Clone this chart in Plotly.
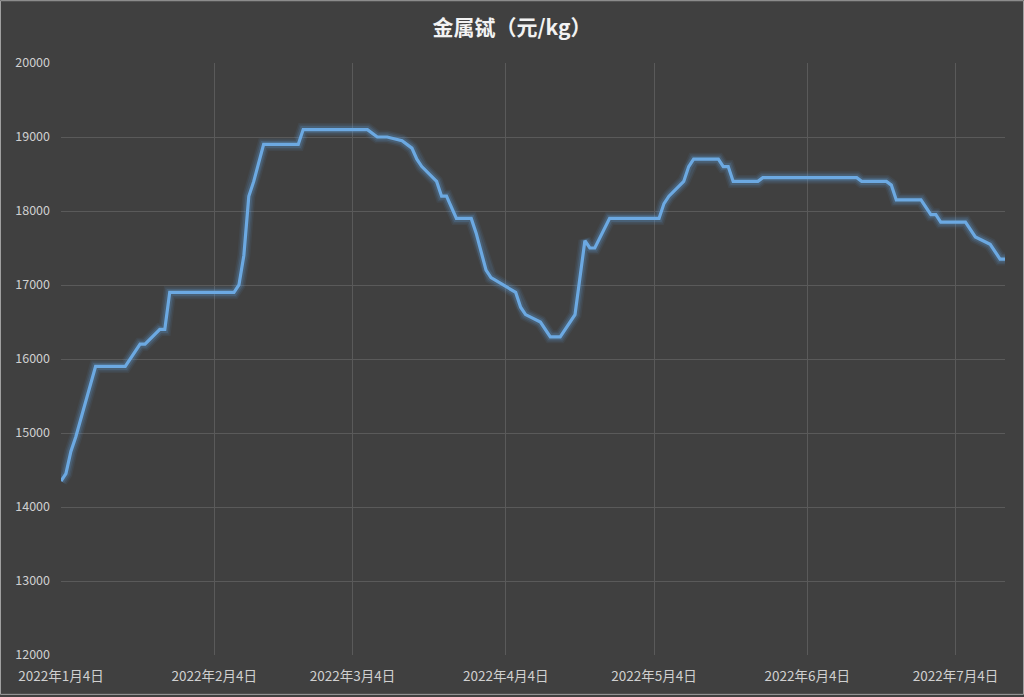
import plotly.graph_objects as go

dates = ["2022-01-04","2022-01-05","2022-01-06","2022-01-07","2022-01-11","2022-01-17","2022-01-20","2022-01-21",
         "2022-01-24","2022-01-25","2022-01-26","2022-02-08","2022-02-09","2022-02-10","2022-02-11","2022-02-12",
         "2022-02-14","2022-02-21","2022-02-22","2022-03-07","2022-03-09","2022-03-11","2022-03-14","2022-03-16",
         "2022-03-17","2022-03-18","2022-03-21","2022-03-22","2022-03-23","2022-03-25","2022-03-28","2022-03-29",
         "2022-03-31","2022-04-01","2022-04-06","2022-04-07","2022-04-08","2022-04-11","2022-04-13","2022-04-15",
         "2022-04-18","2022-04-19","2022-04-20","2022-04-21","2022-04-22","2022-04-25","2022-05-05","2022-05-06",
         "2022-05-07","2022-05-10","2022-05-11","2022-05-12","2022-05-17","2022-05-18","2022-05-19","2022-05-20",
         "2022-05-25","2022-05-26","2022-06-14","2022-06-15","2022-06-20","2022-06-21","2022-06-22","2022-06-27",
         "2022-06-29","2022-06-30","2022-07-01","2022-07-06","2022-07-08","2022-07-11","2022-07-13","2022-07-14"]
prices = [14350,14450,14750,14950,15900,15900,16200,16200,
          16400,16400,16900,16900,17000,17400,18200,18400,
          18900,18900,19100,19100,19000,19000,18950,18850,
          18700,18600,18400,18200,18200,17900,17900,17700,
          17200,17100,16900,16700,16600,16500,16300,16300,
          16600,17100,17600,17500,17500,17900,17900,18100,
          18200,18400,18600,18700,18700,18600,18600,18400,
          18400,18450,18450,18400,18400,18350,18150,18150,
          17950,17950,17850,17850,17650,17550,17350,17350]

tick_dates = ["2022-01-04","2022-02-04","2022-03-04","2022-04-04","2022-05-04","2022-06-04","2022-07-04"]
tick_labels = ["2022年1月4日","2022年2月4日","2022年3月4日","2022年4月4日","2022年5月4日","2022年6月4日","2022年7月4日"]
y_ticks = [12000,13000,14000,15000,16000,17000,18000,19000,20000]
y_labels = ["12000","13000","14000","15000","16000","17000","18000","19000","20000"]
title_text = "金属铽（元/kg）"

blue = "#5B9BD5"
fig = go.Figure()
for w, op in [(13, 0.08), (10, 0.12), (7, 0.2)]:
    fig.add_trace(go.Scatter(x=dates, y=prices, mode="lines", line=dict(color=blue, width=w),
                             opacity=op, hoverinfo="skip", showlegend=False, cliponaxis=False))
fig.add_trace(go.Scatter(x=dates, y=prices, mode="lines", line=dict(color="#6CA9E2", width=3.2),
                         showlegend=False, name="金属铽", cliponaxis=False))

font_family = "Noto Sans CJK SC, Noto Sans, sans-serif"
fig.update_layout(
    width=1024, height=697,
    margin=dict(l=61, r=19, t=63, b=40),
    paper_bgcolor="#404040", plot_bgcolor="#404040",
    title=dict(text=title_text, x=0.5, xanchor="center", y=1 - 28/697, yanchor="middle",
               font=dict(family=font_family, size=21, color="#F2F2F2", weight="bold")),
    font=dict(family=font_family, color="#D0D0D0"),
    xaxis=dict(type="date", range=["2022-01-04", "2022-07-14"], tickvals=tick_dates, ticktext=tick_labels,
               showgrid=True, gridcolor="#5A5A5A", gridwidth=1, zeroline=False, showline=False,
               tickfont=dict(size=13.5, color="#D0D0D0"), ticklabelstandoff=11, fixedrange=True),
    yaxis=dict(range=[12000, 20000], tickvals=y_ticks, ticktext=y_labels, showgrid=True, gridcolor="#5A5A5A",
               gridwidth=1, zeroline=False, showline=False, tickfont=dict(size=12.5, color="#D0D0D0"),
               ticklabelstandoff=10, fixedrange=True),
    shapes=[dict(type="rect", xref="paper", yref="paper",
                 x0=-60.5/944, x1=1 + 18.5/944, y0=-39.5/594, y1=1 + 62.5/594,
                 line=dict(color="#A0A0A0", width=1), fillcolor="rgba(0,0,0,0)", layer="above")],
)
fig.write_html("out.html")
